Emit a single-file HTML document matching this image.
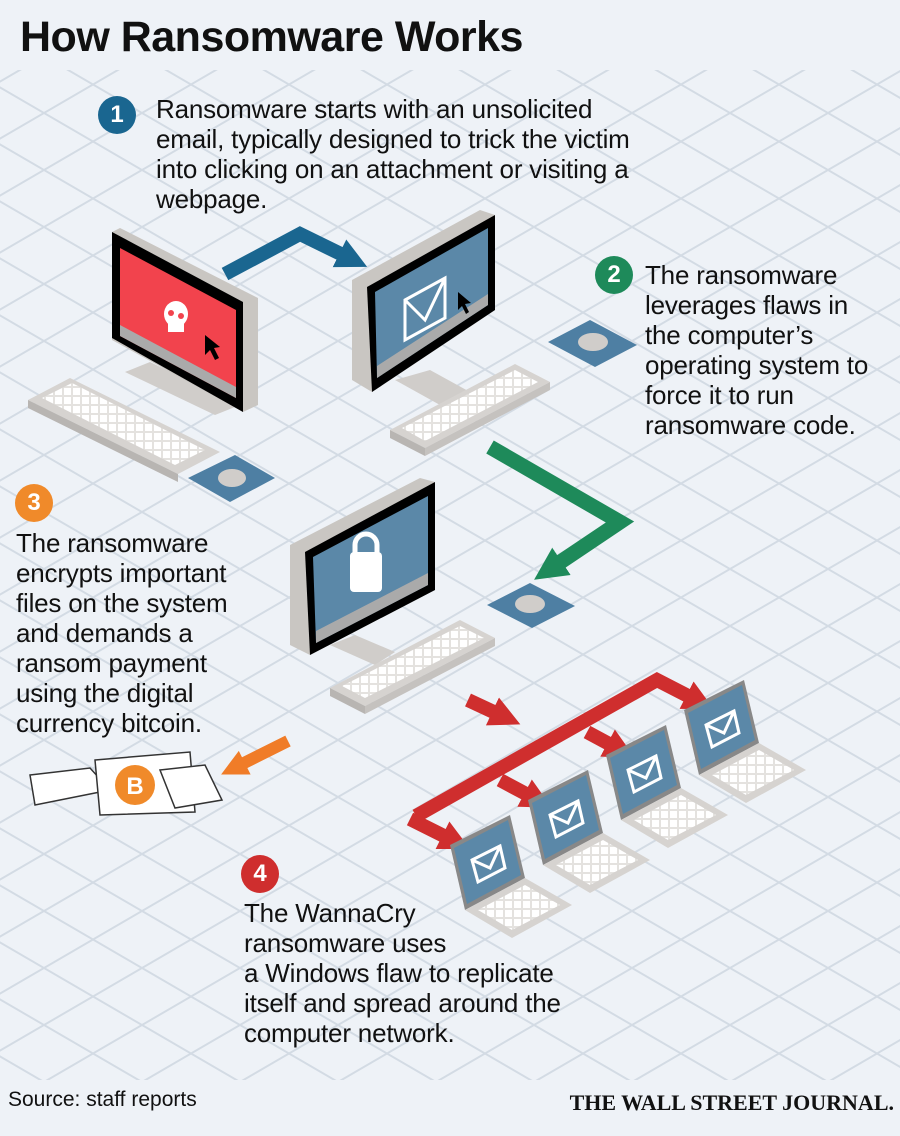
<!DOCTYPE html>
<html><head><meta charset="utf-8"><style>
html,body{margin:0;padding:0;background:#eef2f7;}
body{width:900px;height:1136px;position:relative;overflow:hidden;font-family:"Liberation Sans",sans-serif;color:#111;}
.t{position:absolute;font-size:26px;line-height:30px;letter-spacing:-0.2px;}
.n{position:absolute;width:38px;height:38px;border-radius:50%;color:#fff;font-weight:bold;font-size:24px;line-height:38px;text-align:center;}
</style></head><body>
<svg width="900" height="1136" style="position:absolute;left:0;top:0">
<defs>
<pattern id="g" width="98" height="57" patternUnits="userSpaceOnUse" patternTransform="translate(44,-1)">
<path d="M0 0L98 57M0 57L98 0" stroke="#d3dbe4" stroke-width="2" fill="none"/>
</pattern>
<pattern id="keys" width="9" height="9" patternUnits="userSpaceOnUse">
<rect width="9" height="9" fill="#e4e2df"/><rect x="1" y="1" width="7" height="7" fill="#fff"/>
</pattern>
<marker id="ab" viewBox="0 0 10 10" refX="2" refY="5" markerWidth="2.2" markerHeight="2.4" orient="auto"><path d="M0 0L10 5L0 10Z" fill="#1a6690"/></marker>
<marker id="ag" viewBox="0 0 10 10" refX="2" refY="5" markerWidth="2.2" markerHeight="2.4" orient="auto"><path d="M0 0L10 5L0 10Z" fill="#1e8a5a"/></marker>
<marker id="ar" viewBox="0 0 10 10" refX="2" refY="5" markerWidth="2.2" markerHeight="2.4" orient="auto"><path d="M0 0L10 5L0 10Z" fill="#cf2e2e"/></marker>
<marker id="ao" viewBox="0 0 10 10" refX="2" refY="5" markerWidth="2.2" markerHeight="2.4" orient="auto"><path d="M0 0L10 5L0 10Z" fill="#f07c28"/></marker>
</defs>
<rect x="0" y="70" width="900" height="1010" fill="url(#g)"/>
<!-- blue arrow -->
<polyline points="225,274 300,234 345,256" fill="none" stroke="#1a6690" stroke-width="14" stroke-linejoin="miter" marker-end="url(#ab)"/>
<!-- monitor1 -->
<path d="M125 372 L215 415 L240 405 L150 362Z" fill="#d0cdca"/>
<path d="M120 228 L258 298 L258 405 L243 412 L112 340 L112 232Z" fill="#c9c6c2"/>
<path d="M112 232 L243 302 L243 412 L112 338Z" fill="#000"/>
<path d="M120 248 L236 310 L236 398 L120 336Z" fill="#f2434d"/>
<path d="M120 325 L236 387 L236 398 L120 336Z" fill="#aaa"/>
<ellipse cx="176" cy="314" rx="12" ry="13" fill="#fff"/>
<rect x="168" y="322" width="16" height="10" fill="#fff"/>
<circle cx="171" cy="313" r="3" fill="#f2434d"/><circle cx="181" cy="316" r="3" fill="#f2434d"/>
<path d="M205 335 L205 355 L210 350 L215 360 L219 358 L214 348 L220 347Z" fill="#000"/>
<!-- keyboard1 -->
<path d="M28 400 L70 378 L220 452 L178 474Z" fill="#d6d3d0"/>
<path d="M42 398 L72 383 L205 450 L175 465Z" fill="url(#keys)"/>
<path d="M28 400 L178 474 L178 482 L28 408Z" fill="#b8b5b2"/>
<path d="M188 478 L235 455 L275 478 L230 502Z" fill="#4e7fa3"/>
<ellipse cx="232" cy="478" rx="14" ry="9" fill="#d0cdca"/>
<!-- monitor2 -->
<path d="M395 380 L440 405 L470 392 L430 370Z" fill="#d0cdca"/>
<path d="M352 280 L480 210 L495 215 L495 310 L372 392 L352 380Z" fill="#c9c6c2"/>
<path d="M367 287 L495 215 L495 310 L372 392Z" fill="#000"/>
<path d="M375 292 L488 228 L488 305 L377 378Z" fill="#5b88a8"/>
<path d="M377 366 L488 294 L488 305 L377 378Z" fill="#aaa"/>
<path d="M405 300 L445 278 L445 318 L405 340Z M405 300 L425 320 L445 278" fill="none" stroke="#fff" stroke-width="3"/>
<path d="M458 292 L458 310 L462 306 L466 314 L469 312 L465 304 L471 303Z" fill="#000"/>
<!-- mouse2 -->
<path d="M548 342 L590 320 L637 345 L595 367Z" fill="#4e7fa3"/>
<ellipse cx="593" cy="342" rx="15" ry="9" fill="#d0cdca"/>
<!-- keyboard2 -->
<path d="M390 430 L515 364 L550 382 L425 448Z" fill="#d6d3d0"/>
<path d="M402 428 L515 370 L538 382 L425 441Z" fill="url(#keys)"/>
<path d="M390 430 L425 448 L425 456 L390 438Z" fill="#b8b5b2"/>
<path d="M425 448 L550 382 L550 390 L425 456Z" fill="#c5c2bf"/>
<!-- green arrow -->
<polyline points="490,447 620,522 556,565" fill="none" stroke="#1e8a5a" stroke-width="15" stroke-linejoin="miter" marker-end="url(#ag)"/>
<!-- monitor3 -->
<path d="M330 645 L375 665 L395 652 L355 635Z" fill="#d0cdca"/>
<path d="M290 545 L420 478 L435 482 L435 590 L310 655 L290 645Z" fill="#c9c6c2"/>
<path d="M305 552 L435 482 L435 590 L310 655Z" fill="#000"/>
<path d="M313 557 L428 496 L428 585 L316 643Z" fill="#5b88a8"/>
<path d="M316 631 L428 573 L428 585 L316 643Z" fill="#aaa"/>
<rect x="350" y="552" width="32" height="40" rx="4" fill="#fff"/>
<path d="M355 555 v-10 a11 11 0 0 1 22 0 v10" fill="none" stroke="#fff" stroke-width="5"/>
<!-- mouse3 -->
<path d="M487 605 L530 583 L575 606 L532 628Z" fill="#4e7fa3"/>
<ellipse cx="530" cy="604" rx="15" ry="9" fill="#d0cdca"/>
<!-- keyboard3 -->
<path d="M330 688 L460 620 L495 638 L365 706Z" fill="#d6d3d0"/>
<path d="M342 686 L460 626 L484 638 L365 698Z" fill="url(#keys)"/>
<path d="M330 688 L365 706 L365 714 L330 696Z" fill="#b8b5b2"/>
<path d="M365 706 L495 638 L495 646 L365 714Z" fill="#c5c2bf"/>
<!-- red arrows -->
<polyline points="416,816 657,680 692,698" fill="none" stroke="#cf2e2e" stroke-width="14" stroke-linejoin="miter" marker-end="url(#ar)"/>
<polyline points="410,819 448,838" fill="none" stroke="#cf2e2e" stroke-width="14" marker-end="url(#ar)"/>
<polyline points="500,780 530,796" fill="none" stroke="#cf2e2e" stroke-width="14" marker-end="url(#ar)"/>
<polyline points="587,732 613,746" fill="none" stroke="#cf2e2e" stroke-width="14" marker-end="url(#ar)"/>
<polyline points="468,700 498,714" fill="none" stroke="#cf2e2e" stroke-width="14" marker-end="url(#ar)"/>
<!-- orange arrow -->
<polyline points="288,741 240,765" fill="none" stroke="#f07c28" stroke-width="12" marker-end="url(#ao)"/>
<!-- laptops -->
<g id="lap">
<path d="M450 845 L510 815 L525 878 L465 910Z" fill="#888"/>
<path d="M454 848 L508 820 L521 875 L467 904Z" fill="#5b88a8"/>
<path d="M472 860 L500 846 L505 868 L478 882Z M472 860 L490 868 L500 846" fill="none" stroke="#fff" stroke-width="3"/>
<path d="M465 910 L525 878 L572 905 L512 938Z" fill="#d6d3d0"/>
<path d="M478 910 L525 885 L560 905 L512 930Z" fill="url(#keys)"/>
</g>
<use href="#lap" transform="translate(78,-45)"/>
<use href="#lap" transform="translate(156,-90)"/>
<use href="#lap" transform="translate(234,-135)"/>
<!-- bitcoin hands -->
<path d="M30 775 L90 768 L110 790 L35 805Z" fill="#fff" stroke="#333" stroke-width="1.5"/>
<path d="M95 760 L190 752 L195 812 L100 815Z" fill="#fff" stroke="#333" stroke-width="1.5"/>
<circle cx="135" cy="785" r="20" fill="#f08a2a"/>
<text x="135" y="794" text-anchor="middle" font-family="Liberation Sans" font-weight="bold" font-size="24" fill="#fff">B</text>
<path d="M160 770 L205 765 L222 800 L175 808Z" fill="#fff" stroke="#333" stroke-width="1.5"/>
</svg>
<div style="position:absolute;left:20px;top:13px;font-size:43px;font-weight:bold;letter-spacing:-0.5px">How Ransomware Works</div>
<div class="n" style="left:98px;top:96px;background:#1a6690">1</div>
<div class="t" style="left:156px;top:94px">Ransomware starts with an unsolicited<br>email, typically designed to trick the victim<br>into clicking on an attachment or visiting a<br>webpage.</div>
<div class="n" style="left:595px;top:256px;background:#1e8a5a">2</div>
<div class="t" style="left:645px;top:260px">The ransomware<br>leverages flaws in<br>the computer’s<br>operating system to<br>force it to run<br>ransomware code.</div>
<div class="n" style="left:15px;top:484px;background:#f08a2a">3</div>
<div class="t" style="left:16px;top:528px">The ransomware<br>encrypts important<br>files on the system<br>and demands a<br>ransom payment<br>using the digital<br>currency bitcoin.</div>
<div class="n" style="left:241px;top:855px;background:#cf2e2e">4</div>
<div class="t" style="left:244px;top:898px">The WannaCry<br>ransomware uses<br>a Windows flaw to replicate<br>itself and spread around the<br>computer network.</div>
<div style="position:absolute;left:8px;top:1088px;font-size:21px">Source: staff reports</div>
<div style="position:absolute;right:6px;top:1090px;font-family:'Liberation Serif',serif;font-size:22px;font-weight:bold">THE WALL STREET JOURNAL.</div>
</body></html>
